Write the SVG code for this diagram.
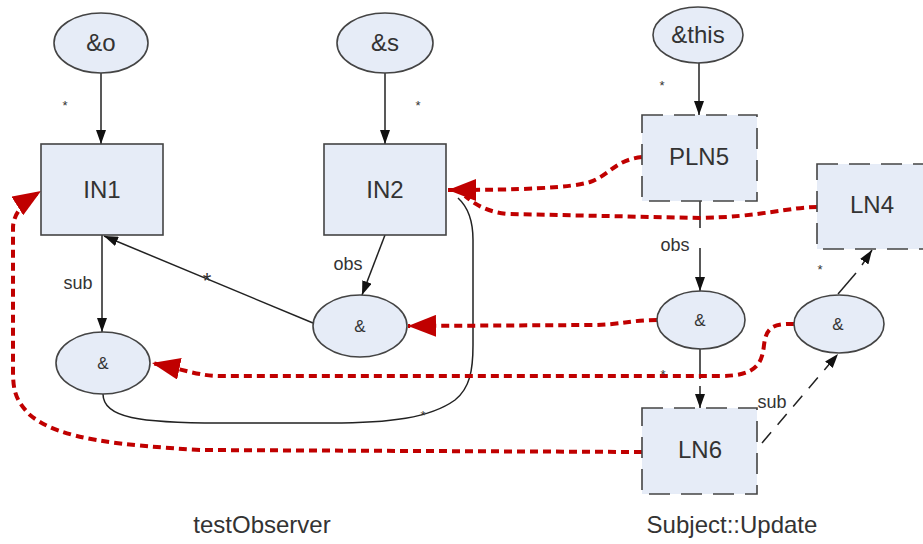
<svg xmlns="http://www.w3.org/2000/svg" width="923" height="544" viewBox="0 0 923 544">
<style>
.bg{fill:#ffffff}
.node{fill:#e6ecf7;stroke:#444;stroke-width:1.6}
.dash{stroke-dasharray:21,11}
.t{font-family:"Liberation Sans",Arial,sans-serif;fill:#333;text-anchor:middle}
.big{font-size:24px}
.amp{font-size:17px}
.lbl{font-size:18px}
.star{font-size:13px}
.edge{fill:none;stroke:#222;stroke-width:1.5}
.red{fill:none;stroke:#c00000;stroke-width:4;stroke-dasharray:8,5}
</style>
<defs>
<marker id="ab" markerUnits="userSpaceOnUse" viewBox="0 0 14 10" refX="14" refY="5" markerWidth="14" markerHeight="10" orient="auto">
<path d="M0,0 L14,5 L0,10 Z" fill="#111"/>
</marker>
<marker id="ar" markerUnits="userSpaceOnUse" viewBox="0 0 28 22" refX="28" refY="11" markerWidth="28" markerHeight="22" orient="auto">
<path d="M0,0 L28,11 L0,22 Z" fill="#c00000"/>
</marker>
</defs>
<rect class="bg" x="0" y="0" width="923" height="544"/>

<g id="connectors">
<line class="edge" x1="101" y1="73" x2="101" y2="144" marker-end="url(#ab)"/>
<line class="edge" x1="385" y1="73" x2="385" y2="144" marker-end="url(#ab)"/>
<line class="edge" x1="699" y1="63" x2="699" y2="115" marker-end="url(#ab)"/>
<line class="edge" x1="102" y1="235" x2="102" y2="332" marker-end="url(#ab)"/>
<line class="edge" x1="385" y1="235" x2="362" y2="295" marker-end="url(#ab)"/>
<line class="edge" x1="313" y1="323" x2="104" y2="236" marker-end="url(#ab)"/>
<path class="edge" d="M103,394 C103,418 140,423 220,423 L330,423 C390,423 430,418 455,400 C470,388 473,370 473,345 L473,240 C473,220 468,207 458,198"/>
<line class="edge" x1="700" y1="201" x2="700" y2="228"/>
<line class="edge" x1="700" y1="248" x2="700" y2="291" marker-end="url(#ab)"/>
<line class="edge" x1="700" y1="349" x2="700" y2="379"/>
<line class="edge" x1="700" y1="386" x2="700" y2="408" marker-end="url(#ab)"/>
<line class="edge" x1="762" y1="443" x2="838" y2="354" stroke-dasharray="14,10" marker-end="url(#ab)"/>
<line class="edge" x1="838" y1="294" x2="856" y2="273"/>
<line class="edge" x1="862" y1="265" x2="872" y2="250" marker-end="url(#ab)"/>

<path class="red" d="M817,207 C790,207 760,217 700,218 L510,214 C490,213 477,206 465,196"/>
<path class="red" d="M642,157 C615,160 610,175 590,182 C570,188 520,190 448,190" marker-end="url(#ar)"/>
<path class="red" d="M657,320 C630,320 620,325 590,325 L408,326" marker-end="url(#ar)"/>
<path class="red" d="M794,324 C770,323 766,330 764,345 C762,365 755,376 720,376 L220,376 C200,376 185,370 152,363" marker-end="url(#ar)"/>
<path class="red" d="M642,452 L200,450 C120,445 60,440 30,415 C15,400 13,390 13,370 L13,228 C13,215 22,203 41,191" marker-end="url(#ar)"/>

<text class="t star" x="65" y="110">*</text>
<text class="t star" x="418" y="110">*</text>
<text class="t star" x="662" y="90">*</text>
<text class="t star" x="820" y="274">*</text>
<text class="t star" x="663" y="379">*</text>
<text class="t star" x="423" y="420">*</text>
<text class="t" style="font-size:22px" x="207" y="288">*</text>
<text class="t lbl" x="78" y="289">sub</text>
<text class="t lbl" x="348" y="270">obs</text>
<text class="t lbl" x="675" y="251">obs</text>
<text class="t lbl" x="772" y="408">sub</text>
</g>

<g id="n_o">
<ellipse class="node" cx="101" cy="43" rx="47" ry="30"/>
<text class="t big" x="101" y="51">&amp;o</text>
</g>
<g id="n_s">
<ellipse class="node" cx="385" cy="43" rx="48" ry="30"/>
<text class="t big" x="385" y="51">&amp;s</text>
</g>
<g id="n_this">
<ellipse class="node" cx="698" cy="35" rx="45" ry="28"/>
<text class="t big" x="698" y="43">&amp;this</text>
</g>
<g id="IN1">
<rect class="node" x="41" y="144" width="122" height="91"/>
<text class="t big" x="102" y="198">IN1</text>
</g>
<g id="IN2">
<rect class="node" x="324" y="144" width="122" height="91"/>
<text class="t big" x="385" y="198">IN2</text>
</g>
<g id="PLN5">
<rect class="node dash" x="642" y="115" width="115" height="86"/>
<text class="t big" x="699" y="165">PLN5</text>
</g>
<g id="LN4">
<rect class="node dash" x="817" y="164" width="115" height="85"/>
<text class="t big" x="872" y="213">LN4</text>
</g>
<g id="LN6">
<rect class="node dash" x="642" y="408" width="115" height="86"/>
<text class="t big" x="700" y="458">LN6</text>
</g>
<g id="amp1">
<ellipse class="node" cx="103" cy="363" rx="47" ry="31"/>
<text class="t amp" x="103" y="369">&amp;</text>
</g>
<g id="amp2">
<ellipse class="node" cx="360" cy="326" rx="47" ry="31"/>
<text class="t amp" x="360" y="332">&amp;</text>
</g>
<g id="amp3">
<ellipse class="node" cx="701" cy="320" rx="44" ry="29"/>
<text class="t amp" x="700" y="326">&amp;</text>
</g>
<g id="amp4">
<ellipse class="node" cx="839" cy="324" rx="45" ry="29"/>
<text class="t amp" x="838" y="330">&amp;</text>
</g>

<text class="t big" x="262" y="533">testObserver</text>
<text class="t big" x="732" y="533">Subject::Update</text>
</svg>
